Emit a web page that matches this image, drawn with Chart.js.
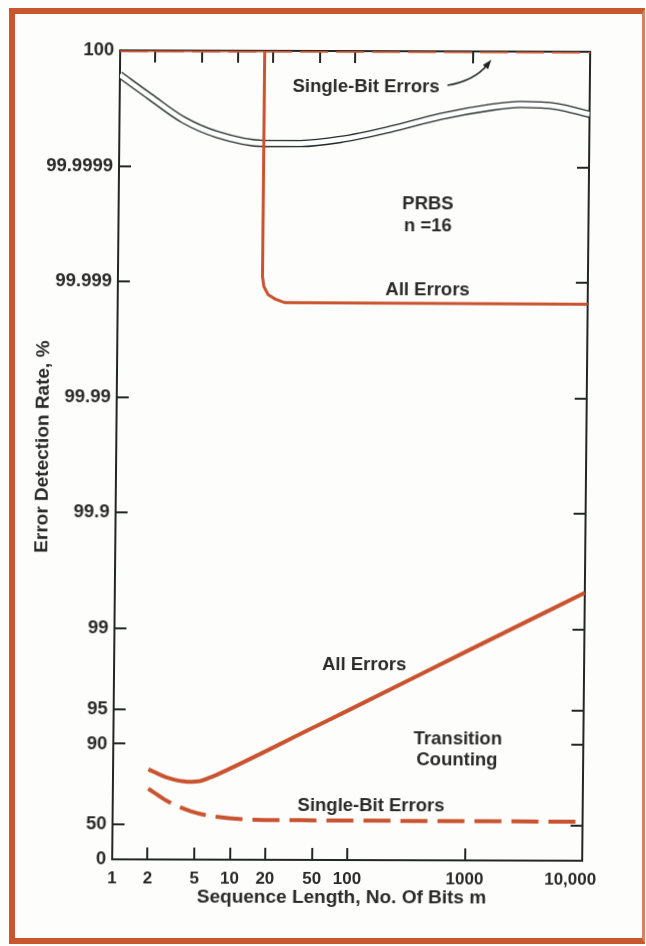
<!DOCTYPE html>
<html>
<head>
<meta charset="utf-8">
<script src="https://cdn.jsdelivr.net/npm/chart.js@4.4.1/dist/chart.umd.min.js"></script>
<style>
  body { margin: 0; background: #fdfdfc; }
  #frame {
    position: absolute; left: 9px; top: 8px; width: 636px; height: 936px;
    box-sizing: border-box;
    border-left: 6px solid #c9562f; border-top: 6px solid #c9562f;
    border-bottom: 6px solid #c9562f; border-right: 3px solid #d9806a;
  }
  #chart {
    position: absolute; left: 0; top: 0;
    transform: matrix(1, 0.003, -0.0099, 1, 0, 0);
    transform-origin: 323px 473px;
  }
</style>
</head>
<body>
<div id="frame"></div>
<canvas id="chart" width="646" height="946"></canvas>
<script>
// axis ticks
const xTicks = [1, 2, 5, 10, 20, 50, 100, 1000, 10000];
const xTickLabels = ['1', '2', '5', '10', '20', '50', '100', '1000', '10,000'];
const yTicks = [0, 50, 90, 95, 99, 99.9, 99.99, 99.999, 99.9999, 100];
const yTickLabels = ['0', '50', '90', '95', '99', '99.9', '99.99', '99.999', '99.9999', '100'];

// PRBS n = 16
const prbsAllM = [1, 17, 17, 17.5, 19, 21.8, 26.5, 10000];
const prbsAllPct = [100, 100, 99.99910, 99.998906, 99.998717, 99.998597, 99.99849, 99.99847];
const prbsSingleM = [1, 10000];
const prbsSinglePct = [100, 100];

// double (white) curve
const bandM = [1, 1.82, 3.5, 6.8, 17, 35, 76, 200, 540, 1430, 2560, 5260, 10000];
const bandPct = [99.9999837, 99.9999748, 99.9999602, 99.9999468, 99.9999366, 99.9999367,
                 99.9999417, 99.9999525, 99.9999634, 99.9999695, 99.9999713, 99.9999702, 99.9999652];

// transition counting
const transAllM = [2, 2.9, 4.3, 5.5, 6.7, 10, 47, 100, 1000, 10000];
const transAllPct = [83.4, 80.4, 78.8, 79.1, 80.5, 83.8, 92.6, 94.95, 98.45, 99.52];
const transSingleM = [2, 2.9, 4.6, 7.5, 15, 40, 10000];
const transSinglePct = [75.6, 68.8, 61.9, 57.5, 55.0, 54.6, 54.0];

const orange = '#c9532f';
const ink = '#222725';
const textColor = '#2a2a2a';
const fontFamily = "'Liberation Sans', Arial, Helvetica, sans-serif";

// y axis is -log10(100 - %); 100 sits on the top line
function toT(v) {
    if (v >= 100) return 5;
    return Math.min(5, -Math.log10(100 - v));
}

function pts(ms, pcts) {
    return ms.map((m, i) => ({ x: m, y: toT(pcts[i]) }));
}

const notes = [
    { text: 'Single-Bit Errors', fx: 0.524, fy: 0.0444 },
    { text: 'PRBS', fx: 0.658, fy: 0.1888 },
    { text: 'n =16', fx: 0.6585, fy: 0.216 },
    { text: 'All Errors', fx: 0.659, fy: 0.295 },
    { text: 'All Errors', fx: 0.532, fy: 0.759 },
    { text: 'Transition', fx: 0.733, fy: 0.850 },
    { text: 'Counting', fx: 0.7315, fy: 0.876 },
    { text: 'Single-Bit Errors', fx: 0.5496, fy: 0.933 }
];

const decorations = {
    id: 'decorations',
    beforeDatasetsDraw(chart) {
        const { ctx, chartArea: a, scales: { x, y } } = chart;
        const len = 12;
        ctx.save();
        ctx.strokeStyle = ink;
        ctx.lineWidth = 2;
        ctx.beginPath();
        xTicks.slice(1, -1).forEach(v => {
            const px = Math.round(x.getPixelForValue(v));
            ctx.moveTo(px, a.bottom);
            ctx.lineTo(px, a.bottom - len);
            ctx.moveTo(px, a.top);
            ctx.lineTo(px, a.top + len);
        });
        yTicks.slice(1, -1).forEach(v => {
            const py = Math.round(y.getPixelForValue(toT(v)));
            ctx.moveTo(a.left, py);
            ctx.lineTo(a.left + len, py);
            ctx.moveTo(a.right, py);
            ctx.lineTo(a.right - len, py);
        });
        ctx.stroke();
        ctx.restore();
    },
    afterDatasetsDraw(chart) {
        const { ctx, chartArea: a } = chart;
        const w = a.right - a.left, h = a.bottom - a.top;
        ctx.save();
        ctx.fillStyle = textColor;
        ctx.font = 'bold 18.5px ' + fontFamily;
        ctx.textAlign = 'center';
        ctx.textBaseline = 'middle';
        notes.forEach(n => ctx.fillText(n.text, a.left + n.fx * w, a.top + n.fy * h));

        // arrow to the top dashed line
        const sx = a.left + 0.697 * w, sy = a.top + 0.042 * h;
        const cx = a.left + 0.755 * w, cy = a.top + 0.036 * h;
        const ex = a.left + 0.782 * w, ey = a.top + 0.016 * h;
        ctx.strokeStyle = ink;
        ctx.lineWidth = 1.6;
        ctx.beginPath();
        ctx.moveTo(sx, sy);
        ctx.quadraticCurveTo(cx, cy, ex, ey);
        ctx.stroke();
        const ang = Math.atan2(ey - cy, ex - cx);
        const tx = ex + 6 * Math.cos(ang), ty = ey + 6 * Math.sin(ang);
        ctx.beginPath();
        ctx.moveTo(tx, ty);
        ctx.lineTo(tx - 10 * Math.cos(ang - 0.35), ty - 10 * Math.sin(ang - 0.35));
        ctx.lineTo(tx - 10 * Math.cos(ang + 0.35), ty - 10 * Math.sin(ang + 0.35));
        ctx.closePath();
        ctx.fillStyle = ink;
        ctx.fill();
        ctx.restore();
    }
};

const xTickFont = { family: fontFamily, size: 17, weight: 'bold' };
const yTickFont = { family: fontFamily, size: 18.5, weight: 'bold' };
const titleFont = { family: fontFamily, size: 19, weight: 'bold' };

new Chart(document.getElementById('chart'), {
    type: 'line',
    data: {
        datasets: [
            {
                label: 'PRBS All Errors', data: pts(prbsAllM, prbsAllPct),
                borderColor: orange, borderWidth: 3, tension: 0, order: 0
            },
            {
                label: 'PRBS Single-Bit Errors', data: pts(prbsSingleM, prbsSinglePct),
                borderColor: orange, borderWidth: 3.5, borderDash: [28, 8], order: 1
            },
            {
                label: 'Band inner', data: pts(bandM, bandPct),
                borderColor: '#ffffff', borderWidth: 4.8, cubicInterpolationMode: 'monotone', order: 2
            },
            {
                label: 'Band outline', data: pts(bandM, bandPct),
                borderColor: ink, borderWidth: 7.4, cubicInterpolationMode: 'monotone', order: 3
            },
            {
                label: 'Transition All Errors', data: pts(transAllM, transAllPct),
                borderColor: orange, borderWidth: 4, cubicInterpolationMode: 'monotone', order: 0
            },
            {
                label: 'Transition Single-Bit Errors', data: pts(transSingleM, transSinglePct),
                borderColor: orange, borderWidth: 4, borderDash: [27, 10],
                cubicInterpolationMode: 'monotone', order: 0
            }
        ]
    },
    options: {
        responsive: false,
        animation: false,
        layout: { padding: { left: 0, right: 60, top: 51, bottom: 0 } },
        elements: { point: { radius: 0 }, line: { fill: false } },
        plugins: { legend: { display: false }, tooltip: { enabled: false } },
        scales: {
            x: {
                type: 'logarithmic', position: 'bottom', min: 1, max: 10000,
                afterBuildTicks: s => { s.ticks = xTicks.map(v => ({ value: v })); },
                afterFit: s => { s.height = 86; },
                grid: { display: false, drawTicks: false },
                border: { display: true, color: ink, width: 2 },
                ticks: {
                    autoSkip: false, maxRotation: 0, padding: 9, color: textColor, font: xTickFont,
                    callback: (v, i) => i === xTicks.length - 1 ? xTickLabels[i] + '     ' : xTickLabels[i]
                },
                title: {
                    display: true, text: 'Sequence Length, No. Of Bits m  ',
                    color: textColor, font: titleFont, padding: { top: 0, bottom: 37 }
                }
            },
            x2: {
                type: 'logarithmic', position: 'top', min: 1, max: 10000,
                afterFit: s => { s.height = 0; },
                grid: { display: false, drawTicks: false },
                border: { display: true, color: ink, width: 2 },
                ticks: { display: false }
            },
            y: {
                type: 'linear', position: 'left', min: toT(0), max: 5,
                afterBuildTicks: s => { s.ticks = yTicks.map(v => ({ value: toT(v) })); },
                afterFit: s => { s.width = 116; },
                grid: { display: false, drawTicks: false },
                border: { display: true, color: ink, width: 2 },
                ticks: {
                    padding: 6, color: textColor, font: yTickFont,
                    callback: (v, i) => yTickLabels[i]
                },
                title: {
                    display: true, text: '   Error Detection Rate, %',
                    color: textColor, font: titleFont, padding: { top: 31, bottom: 0 }
                }
            },
            y2: {
                type: 'linear', position: 'right', min: toT(0), max: 5,
                afterFit: s => { s.width = 0; },
                grid: { display: false, drawTicks: false },
                border: { display: true, color: ink, width: 2 },
                ticks: { display: false }
            }
        }
    },
    plugins: [decorations]
});
</script>
</body>
</html>
